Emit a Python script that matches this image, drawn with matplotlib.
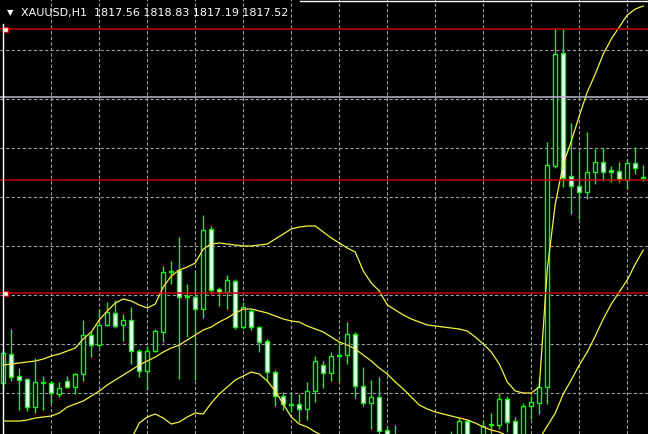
import numpy as np
import matplotlib.pyplot as plt
from matplotlib.patches import Rectangle
from matplotlib.lines import Line2D

# заголовок окна графика
symbol = "XAUUSD,H1"
ohlc_text = "1817.56 1818.83 1817.19 1817.52"

# свечи H1 (по порядку слева направо)
opens = [
    1797.0, 1799.9, 1797.7, 1797.4, 1794.6, 1797.1, 1797.0, 1795.9, 1797.2, 1796.6,
    1797.9, 1801.8, 1800.8, 1802.8, 1804.0, 1802.8, 1803.3, 1800.2, 1798.2, 1800.2,
    1802.1, 1808.2, 1808.3, 1805.7, 1805.6, 1804.4, 1812.4, 1806.4, 1806.1, 1807.2,
    1802.6, 1804.2, 1802.6, 1801.2, 1798.1, 1795.7, 1794.9, 1794.9, 1794.4, 1796.2,
    1798.8, 1798.0, 1799.8, 1799.8, 1801.9, 1796.7, 1795.0, 1795.6, 1792.3, 1791.6,
    1790.5, 1789.6, 1790.2, 1789.4, 1789.9, 1790.4, 1790.0, 1790.8, 1793.2, 1790.9,
    1791.0, 1792.9, 1792.8, 1795.4, 1793.2, 1791.6, 1794.7, 1795.0, 1796.6, 1818.7,
    1830.0, 1817.7, 1816.7, 1816.1, 1818.1, 1819.1, 1818.3, 1818.2, 1817.3, 1819.0,
    1817.56]
highs = [
    1800.4, 1802.4, 1798.5, 1797.5, 1799.5, 1797.7, 1797.2, 1797.1, 1797.7, 1798.0,
    1803.3, 1802.1, 1804.4, 1805.1, 1805.3, 1803.9, 1804.6, 1800.4, 1800.7, 1802.4,
    1808.7, 1809.2, 1811.6, 1806.9, 1808.2, 1813.8, 1812.7, 1806.6, 1807.8, 1807.4,
    1805.1, 1804.4, 1802.7, 1801.4, 1798.3, 1796.1, 1796.1, 1795.9, 1797.1, 1799.7,
    1799.2, 1800.1, 1801.1, 1803.1, 1802.1, 1798.6, 1797.3, 1797.6, 1792.7, 1792.8,
    1791.5, 1790.8, 1791.2, 1790.6, 1791.0, 1791.4, 1792.2, 1793.6, 1793.4, 1791.6,
    1793.2, 1794.0, 1796.0, 1795.7, 1793.6, 1795.0, 1795.7, 1797.6, 1821.1, 1832.5,
    1832.4, 1823.0, 1820.2, 1822.1, 1820.4, 1820.5, 1818.7, 1819.1, 1819.4, 1820.6,
    1818.83]
lows = [
    1796.4, 1797.2, 1794.3, 1794.2, 1794.0, 1794.3, 1795.0, 1795.6, 1796.5, 1795.9,
    1797.2, 1799.6, 1800.6, 1802.7, 1802.5, 1801.2, 1798.9, 1797.6, 1796.3, 1800.1,
    1801.1, 1806.9, 1797.4, 1801.6, 1797.3, 1803.5, 1805.9, 1804.7, 1804.4, 1802.4,
    1802.4, 1802.3, 1800.1, 1797.2, 1794.7, 1794.3, 1794.1, 1793.1, 1793.3, 1795.1,
    1796.5, 1797.2, 1797.1, 1798.9, 1795.5, 1794.7, 1792.4, 1791.4, 1790.4, 1789.9,
    1788.9, 1788.5, 1788.8, 1788.2, 1788.7, 1789.0, 1789.2, 1790.2, 1790.3, 1790.0,
    1790.5, 1791.5, 1792.4, 1792.1, 1791.0, 1791.2, 1793.4, 1793.9, 1794.9, 1818.5,
    1816.6, 1813.9, 1813.4, 1815.4, 1816.9, 1817.2, 1817.1, 1817.1, 1816.4, 1817.9,
    1817.19]
closes = [
    1800.0, 1797.6, 1797.3, 1794.6, 1797.1, 1797.0, 1796.0, 1796.5, 1796.6, 1797.9,
    1801.8, 1800.8, 1802.8, 1804.1, 1802.7, 1803.3, 1800.2, 1798.2, 1800.2, 1802.2,
    1808.1, 1808.1, 1805.6, 1805.6, 1804.4, 1812.3, 1806.3, 1806.1, 1807.3, 1802.6,
    1804.6, 1802.6, 1801.1, 1798.1, 1795.7, 1794.9, 1794.8, 1794.4, 1796.2, 1799.2,
    1798.0, 1799.7, 1799.7, 1801.9, 1796.7, 1795.0, 1795.6, 1792.2, 1790.9, 1790.6,
    1789.6, 1790.2, 1789.4, 1789.9, 1790.4, 1790.0, 1790.9, 1793.2, 1790.9, 1791.2,
    1792.7, 1792.8, 1795.4, 1793.1, 1791.6, 1794.7, 1795.1, 1796.6, 1818.8, 1829.9,
    1817.5, 1816.7, 1816.1, 1818.1, 1819.1, 1818.1, 1818.1, 1817.4, 1819.0, 1818.5,
    1817.52]

# полосы Боллинджера
bb_upper = [
    1798.8, 1798.9, 1799.0, 1799.1, 1799.2, 1799.4, 1799.7, 1799.9, 1800.2, 1800.5,
    1801.4, 1802.1, 1803.3, 1804.2, 1805.0, 1805.4, 1805.2, 1804.8, 1804.5, 1804.9,
    1806.6, 1807.7, 1808.3, 1808.6, 1809.0, 1810.4, 1810.9, 1811.0, 1810.9, 1810.8,
    1810.7, 1810.7, 1810.8, 1810.9, 1811.4, 1811.9, 1812.4, 1812.6, 1812.7, 1812.7,
    1812.1, 1811.5, 1811.0, 1810.5, 1810.1, 1808.2, 1807.0, 1806.2, 1804.8, 1804.3,
    1803.8, 1803.4, 1803.1, 1802.8, 1802.7, 1802.6, 1802.5, 1802.4, 1802.2, 1801.6,
    1800.9, 1800.1, 1798.9, 1797.1, 1796.2, 1796.0, 1796.0, 1796.6, 1808.4, 1814.9,
    1818.9, 1821.2, 1823.7, 1826.1, 1827.9, 1829.9, 1831.4, 1832.6, 1833.8, 1834.4,
    1834.7]
bb_middle = [
    1793.2, 1793.2, 1793.2, 1793.3, 1793.5, 1793.6, 1793.7, 1794.0, 1794.6, 1794.9,
    1795.2, 1795.7, 1796.2, 1796.8, 1797.3, 1797.8, 1798.3, 1798.8, 1799.2, 1799.6,
    1800.1, 1800.5, 1800.8, 1801.3, 1801.8, 1802.3, 1802.6, 1803.1, 1803.5, 1804.0,
    1804.4, 1804.4, 1804.2, 1804.0, 1803.7, 1803.4, 1803.2, 1803.1, 1802.7, 1802.4,
    1802.1, 1801.6, 1801.1, 1800.8, 1800.4, 1799.8, 1799.2, 1798.5, 1797.9, 1797.1,
    1796.4, 1795.6, 1794.8, 1794.4, 1794.1, 1793.9, 1793.7, 1793.5, 1793.3, 1793.0,
    1792.6, 1792.3, 1792.1, 1791.7, 1791.3, 1791.0, 1790.9, 1791.4, 1792.7, 1794.0,
    1795.9, 1797.3, 1798.8, 1800.1, 1801.7, 1803.4, 1804.9, 1806.1, 1807.3, 1808.9,
    1810.3]
# нижняя полоса видна только на части графика
lower_start = 16
bb_lower = [
    1791.4, 1793.0, 1793.6, 1793.9, 1793.5, 1792.9, 1793.1, 1793.6, 1794.0, 1793.9,
    1795.0, 1795.9, 1796.6, 1797.3, 1797.7, 1798.1, 1797.9, 1797.2, 1796.2, 1794.9,
    1793.6, 1792.9, 1792.6, 1792.1, 1791.7, 1791.0]

# горизонтальные линии
red_levels = [1832.4, 1817.3, 1806.0]
red_anchor_levels = [1832.4, 1806.0]
gray_level = 1825.6

green = '#00ff00'
yellow = '#f4f440'

fig = plt.figure(figsize=(6.48, 4.35), dpi=100)
fig.patch.set_facecolor('black')
ax = fig.add_axes([0, 0, 1, 1])
ax.set_facecolor('black')

n = len(opens)
ax.set_xlim(-0.41, 80.59)
ax.set_ylim(1791.9, 1835.4)

# сетка
ax.set_xticks(np.arange(6, n, 6))
ax.set_yticks(np.arange(1796.0, 1831.0, 4.9))
ax.grid(True, color='#9c9ca4', linestyle=(0, (3, 2)), linewidth=0.8)
ax.set_axisbelow(True)
ax.tick_params(length=0, labelbottom=False, labelleft=False)
for s in ax.spines.values():
    s.set_visible(False)

# свечи
for i in range(n):
    o, h, l, c = opens[i], highs[i], lows[i], closes[i]
    ax.vlines(i, l, h, color=green, linewidth=1.0, zorder=3)
    body = max(abs(c - o), 0.04)
    face = 'black' if c > o else 'white'
    ax.add_patch(Rectangle((i - 0.26, min(o, c)), 0.52, body,
                           facecolor=face, edgecolor=green, linewidth=1.0, zorder=4))

# Боллинджер
x = np.arange(n)
ax.plot(x, bb_upper, color=yellow, linewidth=0.9, zorder=5)
ax.plot(x, bb_middle, color=yellow, linewidth=0.9, zorder=5)
ax.plot(np.arange(lower_start, lower_start + len(bb_lower)), bb_lower,
        color=yellow, linewidth=0.9, zorder=5)

for lvl in red_levels:
    ax.axhline(lvl, color='#c80000', linewidth=1.1, zorder=6)
ax.axhline(gray_level, color='#b4bcc8', linewidth=1.1, zorder=6)
ax.plot([0.21] * len(red_anchor_levels), red_anchor_levels, 's', ms=3.6,
        mfc='white', mec='#e00000', mew=1.0, zorder=7)

# рамка окна
fig.add_artist(Line2D([3 / 648, 3 / 648], [0, 1 - 25 / 435], color='white', linewidth=1))
fig.add_artist(Line2D([300 / 648, 1], [1 - 2 / 435, 1 - 2 / 435], color='white', linewidth=1))

fig.text(7 / 648, 1 - 13 / 435, '▼', color='white', fontsize=6, va='center')
fig.text(21 / 648, 1 - 13 / 435, symbol + '  ' + ohlc_text, color='white',
         fontsize=8, va='center')

plt.savefig('out.png', dpi=100, facecolor='black')
